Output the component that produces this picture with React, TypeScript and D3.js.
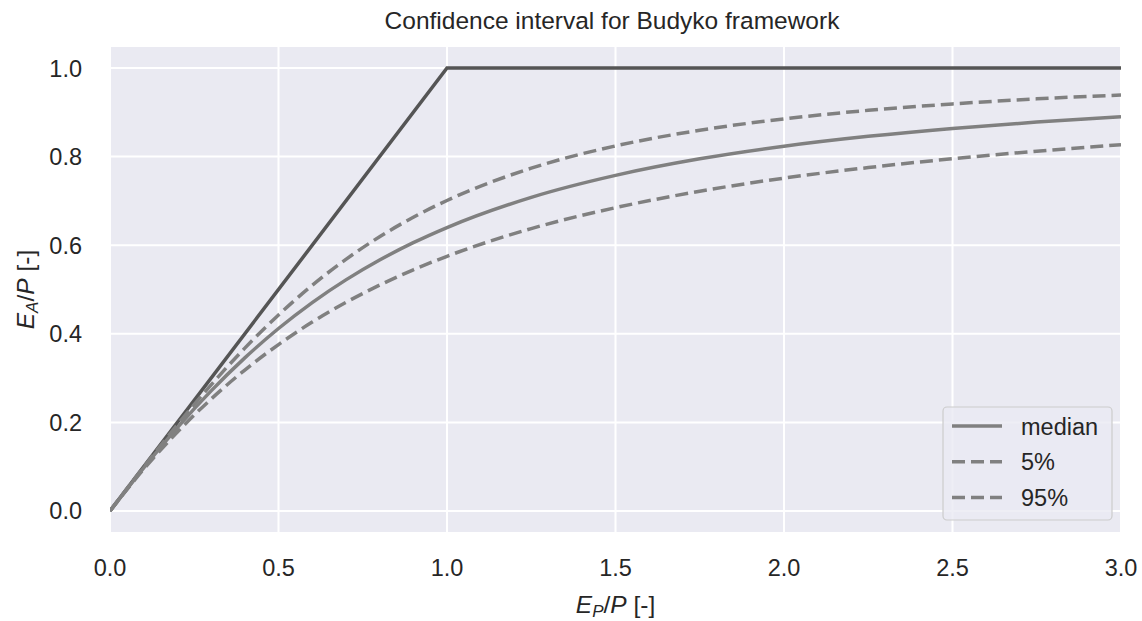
import React from "react";
import * as d3 from "d3";

// Aridity index E_P/P sampled along the x axis
const aridity = [0, 0.1, 0.2, 0.3, 0.4, 0.5, 0.6, 0.7, 0.8, 0.9, 1.0, 1.25, 1.5, 1.75, 2.0, 2.25, 2.5, 2.75, 3.0];

// Evaporative index E_A/P for each curve
const median = [0, 0.0975, 0.1883, 0.2711, 0.3456, 0.4119, 0.4704, 0.5217, 0.5665, 0.6057, 0.6399, 0.7081, 0.7577, 0.795, 0.8235, 0.8458, 0.8637, 0.878, 0.8903];
const upper = [0, 0.0992, 0.1947, 0.2847, 0.3676, 0.4426, 0.5094, 0.5681, 0.6191, 0.6631, 0.701, 0.7739, 0.8242, 0.8595, 0.8852, 0.9045, 0.919, 0.9304, 0.939];
const lower = [0, 0.0944, 0.1783, 0.2526, 0.3182, 0.3757, 0.4264, 0.4708, 0.5099, 0.5445, 0.575, 0.6375, 0.6847, 0.7219, 0.7515, 0.7753, 0.7953, 0.8122, 0.827];

// Energy / water limit of the Budyko space
const limitX = [0, 1, 3];
const limitY = [0, 1, 1];

const xTicks = [0, 0.5, 1.0, 1.5, 2.0, 2.5, 3.0];
const yTicks = [0, 0.2, 0.4, 0.6, 0.8, 1.0];

const legendItems = [
  { label: "median", dashed: false },
  { label: "5%", dashed: true },
  { label: "95%", dashed: true },
];

const W = 1142;
const H = 621;
const M = { left: 110, right: 1121, top: 47, bottom: 532 };
const FONT = "'Liberation Sans', Arial, Helvetica, sans-serif";
const BG = "#EAEAF2";
const CURVE = "#808080";
const LIMIT = "#555555";
const TEXT = "#262626";
const DASH = "13,6";
const TICK_FS = 23.5;
const LABEL_FS = 24.5;
const SUB_FS = 17;

export default function App() {
  const x = d3.scaleLinear().domain([0, 3]).range([M.left, M.right]);
  const y = d3.scaleLinear().domain([-0.0475, 1.0475]).range([M.bottom, M.top]);

  const line = d3
    .line<[number, number]>()
    .x((d) => x(d[0]))
    .y((d) => y(d[1]))
    .curve(d3.curveMonotoneX);
  const straight = d3
    .line<[number, number]>()
    .x((d) => x(d[0]))
    .y((d) => y(d[1]));

  const pts = (ys: number[]) => aridity.map((a, i) => [a, ys[i]] as [number, number]);
  const limitPts = limitX.map((a, i) => [a, limitY[i]] as [number, number]);

  const lg = { x: 943, y: 407, w: 169, h: 113 };

  return (
    <div style={{ position: "absolute", left: 0, top: 0 }}>
      <svg width={W} height={H} style={{ display: "block", background: "#fff" }} fontFamily={FONT}>
        <defs>
          <clipPath id="plot-clip">
            <rect x={M.left} y={M.top} width={M.right - M.left} height={M.bottom - M.top} />
          </clipPath>
        </defs>
        <rect x={M.left} y={M.top} width={M.right - M.left} height={M.bottom - M.top} fill={BG} />

        {/* grid */}
        {xTicks.map((t) => (
          <line key={"gx" + t} x1={x(t)} x2={x(t)} y1={M.top} y2={M.bottom} stroke="#fff" strokeWidth={2} />
        ))}
        {yTicks.map((t) => (
          <line key={"gy" + t} x1={M.left} x2={M.right} y1={y(t)} y2={y(t)} stroke="#fff" strokeWidth={2} />
        ))}

        <g clipPath="url(#plot-clip)" fill="none">
          <path d={straight(limitPts) || ""} stroke={LIMIT} strokeWidth={3.5} />
          <path d={line(pts(median)) || ""} stroke={CURVE} strokeWidth={3.5} />
          <path d={line(pts(lower)) || ""} stroke={CURVE} strokeWidth={3.5} strokeDasharray={DASH} />
          <path d={line(pts(upper)) || ""} stroke={CURVE} strokeWidth={3.5} strokeDasharray={DASH} />
        </g>

        {/* tick labels */}
        {xTicks.map((t) => (
          <text key={"tx" + t} x={x(t)} y={576} textAnchor="middle" fontSize={TICK_FS} fill={TEXT}>
            {d3.format(".1f")(t)}
          </text>
        ))}
        {yTicks.map((t) => (
          <text key={"ty" + t} x={82} y={y(t) + 8.5} textAnchor="end" fontSize={TICK_FS} fill={TEXT}>
            {d3.format(".1f")(t)}
          </text>
        ))}

        {/* title and axis labels */}
        <text x={612} y={29} textAnchor="middle" fontSize={24.5} fill={TEXT}>
          Confidence interval for Budyko framework
        </text>
        <text x={(M.left + M.right) / 2} y={613} textAnchor="middle" fontSize={LABEL_FS} fill={TEXT}>
          <tspan fontStyle="italic">E</tspan>
          <tspan fontStyle="italic" fontSize={SUB_FS} dy={4}>P</tspan>
          <tspan dy={-4}>/</tspan>
          <tspan fontStyle="italic">P</tspan>
          <tspan> [-]</tspan>
        </text>
        <text
          transform={`translate(34, ${(M.top + M.bottom) / 2}) rotate(-90)`}
          textAnchor="middle"
          fontSize={LABEL_FS}
          fill={TEXT}
        >
          <tspan fontStyle="italic">E</tspan>
          <tspan fontStyle="italic" fontSize={SUB_FS} dy={4}>A</tspan>
          <tspan dy={-4}>/</tspan>
          <tspan fontStyle="italic">P</tspan>
          <tspan> [-]</tspan>
        </text>

        {/* legend */}
        <rect
          x={lg.x}
          y={lg.y}
          width={lg.w}
          height={lg.h}
          rx={4}
          fill={BG}
          fillOpacity={0.8}
          stroke="#cccccc"
          strokeWidth={1.2}
        />
        {legendItems.map((item, i) => {
          const cy = 426 + i * 35.7;
          return (
            <g key={item.label}>
              <line
                x1={952}
                x2={1002}
                y1={cy}
                y2={cy}
                stroke={CURVE}
                strokeWidth={3.5}
                strokeDasharray={item.dashed ? DASH : undefined}
              />
              <text x={1021} y={cy + 8.5} fontSize={TICK_FS} fill={TEXT}>
                {item.label}
              </text>
            </g>
          );
        })}
      </svg>
    </div>
  );
}
